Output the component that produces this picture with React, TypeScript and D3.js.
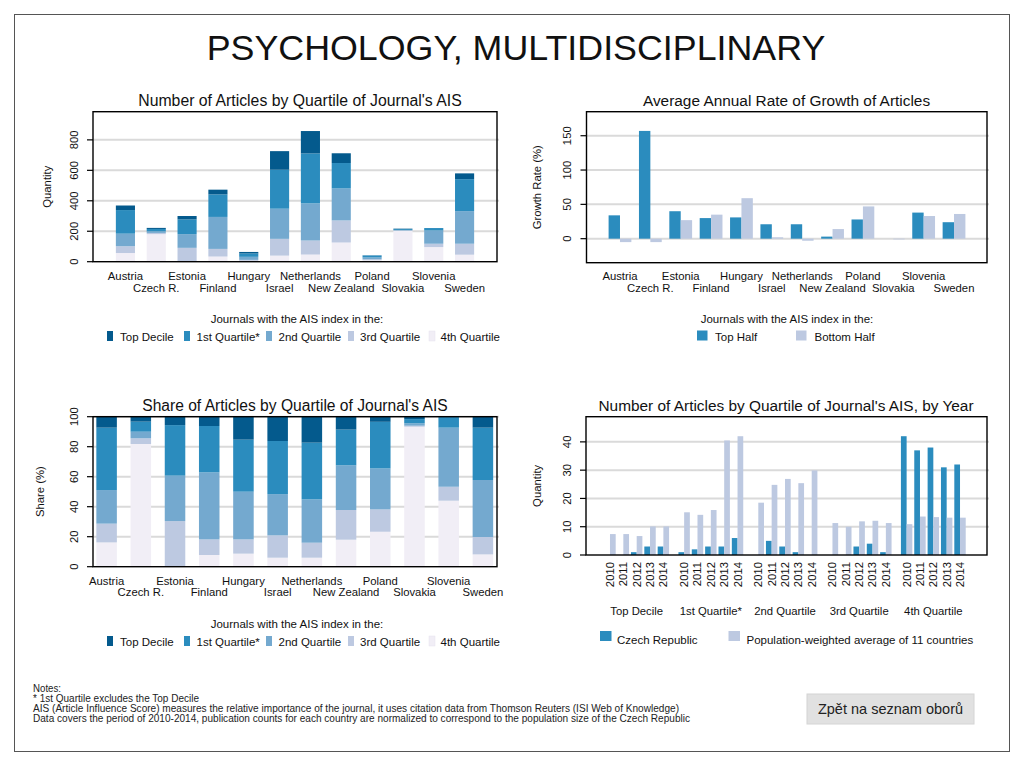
import React from 'react';
import * as d3 from 'd3';

const countries = ['Austria', 'Czech R.', 'Estonia', 'Finland', 'Hungary', 'Israel', 'Netherlands', 'New Zealand', 'Poland', 'Slovakia', 'Slovenia', 'Sweden'];

// article counts by quartile of journal's AIS
const topDecile = [30, 7, 22, 31, 10, 122, 147, 64, 1, 3, 0, 38];
const firstQuartile = [155, 16, 97, 148, 22, 256, 328, 167, 13, 6, 16, 210];
const secondQuartile = [82, 10, 90, 210, 20, 198, 244, 210, 12, 3, 87, 214];
const thirdQuartile = [45, 8, 91, 50, 6, 110, 92, 145, 6, 2, 22, 72];
const fourthQuartile = [57, 181, 0, 34, 6, 40, 47, 126, 10, 203, 96, 46];

// share of articles (%)
const shareTop = [7.3, 3.3, 5.6, 6.2, 15.3, 16.2, 17.3, 8.7, 3.3, 1.6, 0, 7.3];
const share1st = [41.6, 6.7, 33.7, 30.9, 34.7, 35.4, 37.8, 23.8, 31.1, 2.8, 7.3, 34.9];
const share2nd = [22.4, 4.4, 30.3, 44.7, 31.8, 27.5, 28.9, 29.8, 27.3, 1.6, 39.4, 38];
const share3rd = [12.5, 3.8, 30.4, 10.4, 9.5, 14.9, 10, 19.8, 14.9, 0.7, 9.3, 11.6];
const share4th = [16.2, 81.8, 0, 7.8, 8.7, 6, 6, 18, 23.3, 93.3, 44, 8.2];

// average annual growth rate (%)
const growthTopHalf = [34, 157, 40, 30, 31, 21, 21, 3, 28, 0, 38, 24];
const growthBottomHalf = [-5, -5, 27, 35, 59, 2, -3, 14, 47, -1, 33, 36];

// by year
const years = ['2010', '2011', '2012', '2013', '2014'];
const czechByYear = [
  [0, 0, 1, 3, 3],
  [1, 2, 3, 3, 6],
  [0, 5, 3, 1, 0],
  [0, 0, 3, 4, 1],
  [42, 37, 38, 31, 32],
];
const avgByYear = [
  [7.4, 7.4, 6.7, 10.1, 10.1],
  [15.1, 14.2, 15.9, 40.5, 42],
  [18.5, 24.8, 26.9, 25.4, 29.9],
  [11.3, 10, 11.9, 12.1, 11.3],
  [10.9, 13.6, 13.4, 13.2, 13.2],
];

const quartileNames = ['Top Decile', '1st Quartile*', '2nd Quartile', '3rd Quartile', '4th Quartile'];
const quartileKeys = ['top', 'q1', 'q2', 'q3', 'q4'];
const quartileColors = ['#045a8d', '#2b8cbe', '#74a9cf', '#bdc9e1', '#f1eef6'];
const halfNames = ['Top Half', 'Bottom Half'];
const halfColors = ['#2b8cbe', '#bdc9e1'];

const countTicks = [0, 200, 400, 600, 800];
const growthTicks = [0, 50, 100, 150];
const shareTicks = [0, 20, 40, 60, 80, 100];
const yearTicks = [0, 10, 20, 30, 40];

const FONT = '"Liberation Sans", Arial, Helvetica, sans-serif';
const GRID = '#dadada';

const countRows = countries.map((c, i) => ({
  country: c, top: topDecile[i], q1: firstQuartile[i], q2: secondQuartile[i], q3: thirdQuartile[i], q4: fourthQuartile[i],
}));
const shareRows = countries.map((c, i) => ({
  country: c, top: shareTop[i], q1: share1st[i], q2: share2nd[i], q3: share3rd[i], q4: share4th[i],
}));
const stackKeys = [...quartileKeys].reverse();
const colorOf = (k: string) => quartileColors[quartileKeys.indexOf(k)];

type Box = { x0: number; x1: number; y0: number; y1: number };

const YAxis = ({ box, scale, ticks, title, titleX }: { box: Box; scale: d3.ScaleLinear<number, number>; ticks: number[]; title: string; titleX: number }) => (
  <g>
    {ticks.map(t => (
      <g key={t}>
        {t !== 0 || scale(0) < box.y1 - 1 ? (
          <line x1={box.x0} x2={box.x1 + 2} y1={scale(t)} y2={scale(t)} stroke={GRID} strokeWidth={2} />
        ) : null}
      </g>
    ))}
    {ticks.map(t => (
      <g key={'t' + t}>
        <line x1={box.x0 - 6} x2={box.x0} y1={scale(t)} y2={scale(t)} stroke="#000" strokeWidth={1.2} />
        <text transform={`translate(${box.x0 - 19},${scale(t)}) rotate(-90)`} textAnchor="middle" dy="0.35em" fontSize={11.3}>{t}</text>
      </g>
    ))}
    <text transform={`translate(${titleX},${(box.y0 + box.y1) / 2}) rotate(-90)`} textAnchor="middle" dy="0.35em" fontSize={11.3}>{title}</text>
  </g>
);

const Frame = ({ box }: { box: Box }) => (
  <rect x={box.x0} y={box.y0} width={box.x1 - box.x0} height={box.y1 - box.y0} fill="none" stroke="#000" strokeWidth={1.4} />
);

const CountryLabels = ({ x, y1, y2 }: { x: d3.ScaleBand<string>; y1: number; y2: number }) => (
  <g fontSize={11.3} textAnchor="middle">
    {countries.map((c, i) => (
      <text key={c} x={(x(c) as number) + x.bandwidth() / 2} y={i % 2 === 0 ? y1 : y2}>{c}</text>
    ))}
  </g>
);

type LegendItem = { label: string; color: string; kx: number; tx: number };
const Legend = ({ heading, hx, hy, items, ky, kw, kh, ty }: { heading: string; hx: number; hy: number; items: LegendItem[]; ky: number; kw: number; kh: number; ty: number }) => (
  <g fontSize={11.5}>
    <text x={hx} y={hy} textAnchor="middle">{heading}</text>
    {items.map(it => (
      <g key={it.label}>
        <rect x={it.kx} y={ky} width={kw} height={kh} fill={it.color} stroke={it.color === '#f1eef6' ? '#e6e3ee' : 'none'} strokeWidth={0.5} />
        <text x={it.tx} y={ty}>{it.label}</text>
      </g>
    ))}
  </g>
);

const quartileLegendX = [
  { kx: 107, tx: 120 },
  { kx: 184, tx: 196.5 },
  { kx: 266, tx: 278.5 },
  { kx: 348, tx: 360 },
  { kx: 429, tx: 440.5 },
];

export default function App() {
  // ---- top left: counts ----
  const tlBox = { x0: 93, x1: 497, y0: 111.7, y1: 261.7 };
  const tlX = d3.scaleBand<string>().domain(countries).range([110, 480]).paddingInner(0.38).paddingOuter(0.19);
  const tlY = d3.scaleLinear().domain([0, 985]).range([tlBox.y1, tlBox.y0]);
  const countStack = d3.stack<any>().keys(stackKeys)(countRows);

  // ---- top right: growth ----
  const trBox = { x0: 586.5, x1: 987, y0: 111.7, y1: 262.7 };
  const trX = d3.scaleBand<string>().domain(countries).range([604.8, 969.2]).paddingInner(0.25).paddingOuter(0.125);
  const trSub = d3.scaleBand<string>().domain(halfNames).range([0, trX.bandwidth()]);
  const trY = d3.scaleLinear().domain([-35, 185]).range([trBox.y1, trBox.y0]);

  // ---- bottom left: shares ----
  const blBox = { x0: 93, x1: 497, y0: 416.7, y1: 566.7 };
  const blX = d3.scaleBand<string>().domain(countries).range([89.5, 500]).paddingInner(0.4).paddingOuter(0.2);
  const blY = d3.scaleLinear().domain([0, 100]).range([blBox.y1, blBox.y0]);
  const shareStack = d3.stack<any>().keys(stackKeys)(shareRows);

  // ---- bottom right: by year ----
  const brBox = { x0: 586, x1: 987, y0: 416.7, y1: 555 };
  const brX = d3.scaleBand<string>().domain(quartileNames).range([599.6, 970.4]).paddingInner(0.1).paddingOuter(0.05);
  const brYear = d3.scaleBand<string>().domain(years).range([0, brX.bandwidth()]);
  const brSub = d3.scaleBand<string>().domain(['cz', 'avg']).range([0, brYear.bandwidth()]).paddingOuter(0.17);
  const brY = d3.scaleLinear().domain([0, 48.9]).range([brBox.y1, brBox.y0]);

  return (
    <svg width={1024} height={766} style={{ position: 'absolute', left: 0, top: 0, background: '#fff' }} fontFamily={FONT} fill="#111">
      <rect x={0} y={0} width={1024} height={766} fill="#fff" />
      <rect x={14.5} y={14.5} width={995} height={737} fill="none" stroke="#555" strokeWidth={1} />

      <text x={516} y={59.5} textAnchor="middle" fontSize={35.8}>PSYCHOLOGY, MULTIDISCIPLINARY</text>

      {/* top left */}
      <text x={300} y={106} textAnchor="middle" fontSize={15.8}>Number of Articles by Quartile of Journal's AIS</text>
      <YAxis box={tlBox} scale={tlY} ticks={countTicks} title="Quantity" titleX={46.7} />
      {countStack.map(layer => (
        <g key={layer.key} fill={colorOf(layer.key)}>
          {layer.map((d, i) => (
            <rect key={i} x={tlX(countries[i])} width={tlX.bandwidth()} y={tlY(d[1])} height={Math.max(0, tlY(d[0]) - tlY(d[1]))} />
          ))}
        </g>
      ))}
      <Frame box={tlBox} />
      <CountryLabels x={tlX} y1={280.3} y2={292} />
      <Legend heading="Journals with the AIS index in the:" hx={297} hy={323} ky={331} kw={6} kh={10} ty={340.5}
        items={quartileNames.map((q, i) => ({ label: q, color: quartileColors[i], ...quartileLegendX[i] }))} />

      {/* top right */}
      <text x={786.5} y={106} textAnchor="middle" fontSize={15.4}>Average Annual Rate of Growth of Articles</text>
      <YAxis box={trBox} scale={trY} ticks={growthTicks} title="Growth Rate (%)" titleX={537.5} />
      {countries.map((c, i) => (
        <g key={c}>
          {[growthTopHalf[i], growthBottomHalf[i]].map((v, j) => (
            <rect key={j} x={(trX(c) as number) + (trSub(halfNames[j]) as number)} width={trSub.bandwidth()}
              y={trY(Math.max(0, v))} height={Math.abs(trY(v) - trY(0))} fill={halfColors[j]} />
          ))}
        </g>
      ))}
      <Frame box={trBox} />
      <CountryLabels x={trX} y1={280.3} y2={292} />
      <Legend heading="Journals with the AIS index in the:" hx={787} hy={323} ky={330.5} kw={10.5} kh={10} ty={340.5}
        items={[{ label: 'Top Half', color: halfColors[0], kx: 697, tx: 715 }, { label: 'Bottom Half', color: halfColors[1], kx: 796, tx: 814.5 }]} />

      {/* bottom left */}
      <text x={295} y={411} textAnchor="middle" fontSize={15.6}>Share of Articles by Quartile of Journal's AIS</text>
      <YAxis box={blBox} scale={blY} ticks={shareTicks} title="Share (%)" titleX={40} />
      {shareStack.map(layer => (
        <g key={layer.key} fill={colorOf(layer.key)}>
          {layer.map((d, i) => (
            <rect key={i} x={blX(countries[i])} width={blX.bandwidth()} y={blY(d[1])} height={Math.max(0, blY(d[0]) - blY(d[1]))} />
          ))}
        </g>
      ))}
      <Frame box={blBox} />
      <CountryLabels x={blX} y1={585} y2={596.3} />
      <Legend heading="Journals with the AIS index in the:" hx={297} hy={628} ky={636} kw={6} kh={10} ty={645.5}
        items={quartileNames.map((q, i) => ({ label: q, color: quartileColors[i], ...quartileLegendX[i] }))} />

      {/* bottom right */}
      <text x={786} y={411} textAnchor="middle" fontSize={15.4}>Number of Articles by Quartile of Journal's AIS, by Year</text>
      <YAxis box={brBox} scale={brY} ticks={yearTicks} title="Quantity" titleX={536.7} />
      {quartileNames.map((q, qi) => (
        <g key={q}>
          {years.map((yr, yi) => {
            const gx = (brX(q) as number) + (brYear(yr) as number);
            return (
              <g key={yr}>
                <rect x={gx + (brSub('cz') as number)} width={brSub.bandwidth()} y={brY(czechByYear[qi][yi])}
                  height={brY(0) - brY(czechByYear[qi][yi])} fill={halfColors[0]} />
                <rect x={gx + (brSub('avg') as number)} width={brSub.bandwidth()} y={brY(avgByYear[qi][yi])}
                  height={brY(0) - brY(avgByYear[qi][yi])} fill={halfColors[1]} />
                <text transform={`translate(${gx + brYear.bandwidth() / 2},562) rotate(-90)`} textAnchor="end" dy="0.35em" fontSize={11.3}>{yr}</text>
              </g>
            );
          })}
          <text x={(brX(q) as number) + brX.bandwidth() / 2} y={615} textAnchor="middle" fontSize={11.3}>{q}</text>
        </g>
      ))}
      <Frame box={brBox} />
      <Legend heading="" hx={786} hy={620} ky={631} kw={11.5} kh={10} ty={643.5}
        items={[{ label: 'Czech Republic', color: halfColors[0], kx: 600, tx: 617 }, { label: 'Population-weighted average of 11 countries', color: halfColors[1], kx: 728.5, tx: 746.5 }]} />

      {/* notes */}
      <g fontSize={10.5} fill="#222">
        <text x={33} y={692} textLength={28} lengthAdjust="spacingAndGlyphs">Notes:</text>
        <text x={33} y={702} textLength={166} lengthAdjust="spacingAndGlyphs">* 1st Quartile excludes the Top Decile</text>
        <text x={33} y={712} textLength={646} lengthAdjust="spacingAndGlyphs">AIS (Article Influence Score) measures the relative importance of the journal, it uses citation data from Thomson Reuters (ISI Web of Knowledge)</text>
        <text x={33} y={722} textLength={657} lengthAdjust="spacingAndGlyphs">Data covers the period of 2010-2014, publication counts for each country are normalized to correspond to the population size of the Czech Republic</text>
      </g>

      <rect x={807} y={694} width={167} height={30} fill="#e1e1e1" stroke="#d4d4d4" strokeWidth={1} />
      <text x={890.5} y={714} textAnchor="middle" fontSize={14.5} fill="#222">Zpět na seznam oborů</text>
    </svg>
  );
}
